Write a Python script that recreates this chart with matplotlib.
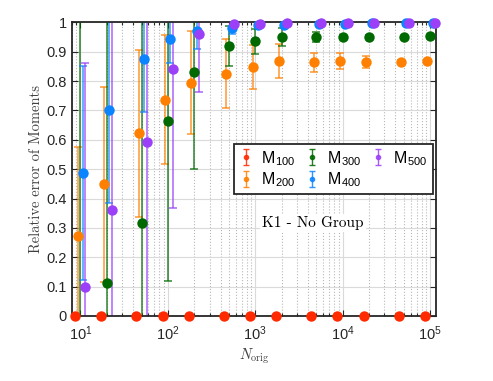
import numpy as np
import matplotlib
matplotlib.use('Agg')
import matplotlib.pyplot as plt
from matplotlib.ticker import LogLocator, FixedLocator, NullFormatter

# Data
N = [10, 20, 50, 100, 200, 500, 1000, 2000, 5000, 10000, 20000, 50000, 100000]
labels = ['M$_{\\mathdefault{100}}$', 'M$_{\\mathdefault{200}}$', 'M$_{\\mathdefault{300}}$',
          'M$_{\\mathdefault{400}}$', 'M$_{\\mathdefault{500}}$']

m100 = [0, 0, 0, 0, 0, 0, 0, 0, 0, 0, 0, 0, 0]
m100_err = [0, 0, 0, 0, 0, 0, 0, 0, 0, 0, 0, 0, 0]
m200 = [0.272, 0.448, 0.622, 0.737, 0.795, 0.826, 0.849, 0.869, 0.864, 0.869, 0.866, 0.866, 0.868]
m200_err = [0.304, 0.332, 0.285, 0.22, 0.176, 0.118, 0.075, 0.057, 0.033, 0.028, 0.02, 0.006, 0.005]
m300 = [1.4, 0.112, 0.315, 0.664, 0.83, 0.92, 0.936, 0.951, 0.951, 0.951, 0.951, 0.949, 0.953]
m300_err = [1.5, 0.95, 0.75, 0.545, 0.33, 0.069, 0.042, 0.03, 0.016, 0.008, 0.005, 0.004, 0.004]
m400 = [0.486, 0.703, 0.877, 0.942, 0.971, 0.98, 0.99, 0.993, 0.995, 0.996, 0.997, 0.997, 0.997]
m400_err = [0.365, 0.318, 0.182, 0.08, 0.06, 0.02, 0.01, 0.006, 0.004, 0.003, 0.002, 0.002, 0.002]
m500 = [0.097, 0.36, 0.593, 0.84, 0.962, 0.994, 0.996, 0.997, 0.998, 0.998, 0.998, 0.998, 0.998]
m500_err = [0.765, 0.7, 0.65, 0.474, 0.2, 0.01, 0.004, 0.003, 0.002, 0.002, 0.002, 0.002, 0.002]

values = [m100, m200, m300, m400, m500]
errors = [m100_err, m200_err, m300_err, m400_err, m500_err]
colors = ['#FF2A00', '#FF8000', '#006A00', '#0A84FF', '#9B40F8']
shift = [0.87, 0.93, 1.0, 1.07, 1.14]  # horizontal dodge on the log axis

plt.rcParams['font.family'] = ['Liberation Sans', 'DejaVu Sans']
plt.rcParams['mathtext.fontset'] = 'cm'

fig = plt.figure(figsize=(4.93, 3.81), dpi=100)
ax = fig.add_axes([0.146, 0.171, 0.738, 0.770])

Nx = np.array(N, dtype=float)
for y, e, c, s in zip(values, errors, colors, shift):
    y = np.array(y, dtype=float)
    ax.errorbar(Nx * s, y, yerr=e, fmt='none', ecolor=c, alpha=0.75,
                elinewidth=1.2, capsize=3, capthick=1.2, zorder=2)
    ax.plot(Nx * s, np.where(y <= 1, y, np.nan), 'o', color=c, ms=7.5,
            mec='none', clip_on=False, zorder=3)

# legend proxies (small errorbar icons)
handles = []
for c, lab in zip(colors, labels):
    h = ax.errorbar([np.nan], [np.nan], yerr=[np.nan], fmt='o', color=c, ms=3,
                    elinewidth=1, capsize=2, alpha=0.85, label=lab)
    handles.append(h)

ax.set_xscale('log')
ax.set_xlim(8.0, 1.16e5)
ax.set_ylim(0, 1)
ax.yaxis.set_major_locator(FixedLocator(np.arange(0, 1.01, 0.1)))
ax.set_yticklabels(['0', '0.1', '0.2', '0.3', '0.4', '0.5', '0.6', '0.7', '0.8', '0.9', '1'])
ax.xaxis.set_major_locator(LogLocator(base=10, numticks=10))
ax.xaxis.set_minor_locator(LogLocator(base=10, subs=np.arange(2, 10), numticks=20))
ax.xaxis.set_minor_formatter(NullFormatter())

ax.tick_params(which='both', direction='in', top=True, right=True, labelsize=10.5,
               width=0.8, colors='#262626')
ax.tick_params(which='major', length=4)
ax.tick_params(axis='x', which='major', pad=6)
ax.tick_params(which='minor', length=2.5)
ax.grid(True, which='major', color='#dadada', lw=0.8, ls='-')
ax.grid(True, which='minor', axis='x', color='#b8b8b8', lw=0.8, ls=':')
ax.set_axisbelow(True)
for sp in ax.spines.values():
    sp.set_linewidth(1.3)
    sp.set_color('#262626')

ax.set_ylabel('Relative error of Moments', family='cmr10', fontsize=10.5,
              labelpad=3, color='#404040')
ax.set_xlabel(r'$N_{\rm orig}$', fontsize=10.5, labelpad=3, color='#404040')

ax.text(0.663, 0.316, 'K1 - No Group', transform=ax.transAxes, family='cmr10',
        fontsize=11, ha='center', va='center',
        bbox=dict(facecolor='white', edgecolor='none', pad=1.5))

leg = ax.legend(handles=handles, ncol=3, loc='center', bbox_to_anchor=(0.718, 0.50),
                fontsize=11.5, frameon=True, fancybox=False, edgecolor='#262626',
                framealpha=1, handlelength=0.9, handletextpad=0.5, columnspacing=0.6,
                borderpad=0.3, labelspacing=0.2, borderaxespad=0)
leg.get_frame().set_linewidth(1.3)

fig.savefig('out.png', dpi=100)
